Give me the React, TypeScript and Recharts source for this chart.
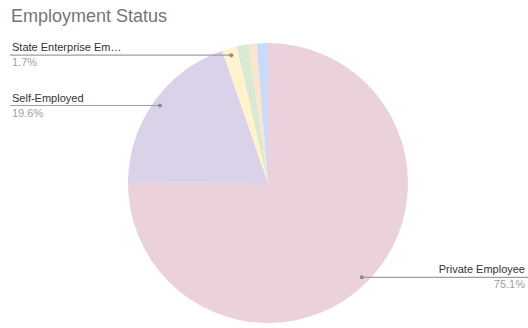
import React from "react";
import { PieChart, Pie, Cell } from "recharts";

const categories = [
  "Private Employee",
  "Self-Employed",
  "State Enterprise Em…",
  "Other 1",
  "Other 2",
  "Other 3",
];
const values = [75.1, 19.6, 1.7, 1.4, 0.9, 1.3];
const percentLabels = ["75.1%", "19.6%", "1.7%", "", "", ""];
const colors = ["#ead1dc", "#d9d2e9", "#fff2cc", "#d9ead3", "#fce5cd", "#c9daf8"];
const labelledSlices = [0, 1, 2];

const data = categories.map((name, i) => ({ name, value: values[i] }));

const W = 528;
const H = 328;
const RADIAN = Math.PI / 180;

const renderLabel = (props: any) => {
  const { cx, cy, midAngle, outerRadius, index } = props;
  if (!labelledSlices.includes(index)) return null;
  const r = outerRadius * 0.95;
  const x = cx + r * Math.cos(-midAngle * RADIAN);
  const y = cy + r * Math.sin(-midAngle * RADIAN);
  const right = x > cx;
  const lineStart = right ? x : 10;
  const lineEnd = right ? W : x;
  return (
    <g key={`lbl-${index}`}>
      <line x1={lineStart} y1={y} x2={lineEnd} y2={y} stroke="#9e9e9e" strokeWidth={1.2} />
      <circle cx={x} cy={y} r={2} fill="#8a8a8a" />
      <text
        x={right ? W - 3 : 12}
        y={y - 4}
        textAnchor={right ? "end" : "start"}
        fontSize={11}
        fontFamily="Arial, 'Liberation Sans', sans-serif"
        fill="#333333"
      >
        {categories[index]}
      </text>
      <text
        x={right ? W - 3 : 12}
        y={y + 11}
        textAnchor={right ? "end" : "start"}
        fontSize={11}
        fontFamily="Arial, 'Liberation Sans', sans-serif"
        fill="#a0a0a0"
      >
        {percentLabels[index]}
      </text>
    </g>
  );
};

export default function App() {
  return (
    <div style={{ position: "absolute", left: 0, top: 0, width: W, height: H, background: "#fff" }}>
      <div
        style={{
          position: "absolute",
          left: 11,
          top: 6,
          fontFamily: "Arial, 'Liberation Sans', sans-serif",
          fontSize: 18,
          color: "#757575",
          zIndex: 2,
        }}
      >
        Employment Status
      </div>
      <PieChart width={W} height={H} margin={{ top: 0, right: 0, bottom: 0, left: 0 }}>
        <Pie
          data={data}
          dataKey="value"
          nameKey="name"
          cx={268}
          cy={183}
          outerRadius={140}
          startAngle={90}
          endAngle={-270}
          stroke="none"
          label={renderLabel}
          labelLine={false}
          isAnimationActive={false}
        >
          {data.map((d, i) => (
            <Cell key={d.name} fill={colors[i]} />
          ))}
        </Pie>
      </PieChart>
    </div>
  );
}
